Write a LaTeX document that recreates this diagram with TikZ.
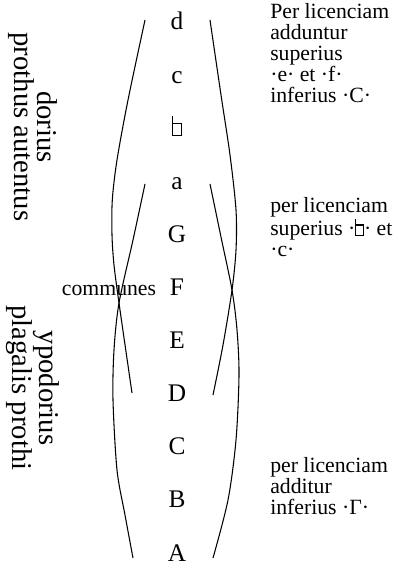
\documentclass[tikz,border=0pt]{standalone}
\usepackage{fontspec}
\setmainfont{Liberation Serif}
\usetikzlibrary{positioning}
\newcommand{\bquadro}{\hbox{\vrule width .05em height .8em\kern-.05em\vbox{\hrule height .05em\hbox{\vrule width .05em height .43em\kern .3em\vrule width .05em}\hrule height .05em}}}

\begin{document}
\begin{tikzpicture}[x=0.75pt, y=-0.75pt, every node/.style={inner sep=0pt},
  gamut/.style={font=\fontsize{19}{20}\selectfont, anchor=base},
  note/.style={font=\fontsize{16.3}{15.75}\selectfont, align=left},
  modus/.style={font=\fontsize{21.5}{17}\selectfont, align=center, rotate=-90},
  ambitus/.style={line width=0.8pt}]
  \useasboundingbox (0,0) rectangle (403,566);
  \foreach \nm/\tx [count=\i from 0] in {d/d, c/c, bq/\bquadro, a/a, G/G, F/F, E/E, D/D, C/C, B/B, A/A}
    \node[gamut] (\nm) at (177, 30+53.1*\i) {\tx};
  \node[modus] (dorius) at (33,127) {dorius\\prothus autentus};
  \node[modus] (ypodorius) at (33,388) {ypodorius\\plagalis prothi};
  \node[note, base left=10pt of F] (communes) {communes};
  \node[note, anchor=base west] (licsup) at (270,103) {Per licenciam\\adduntur\\superius\\·e· et ·f·\\inferius ·C·};
  \node[note, anchor=base west] (licmed) at (270,257) {per licenciam\\superius ·\bquadro· et\\·c·};
  \node[note, anchor=base west] (licinf) at (270,514) {per licenciam\\additur\\inferius ·Γ·};
  \draw[ambitus] plot[smooth] coordinates {(145,20) (128,100) (117,160) (112.3,200) (112,235) (114,265) (119,303) (132,393)};
  \draw[ambitus] plot[smooth] coordinates {(210,20) (221,95) (230,155) (236,210) (236,250) (232,290) (223,345) (213,395)};
  \draw[ambitus] plot[smooth] coordinates {(145,184) (133,240) (119,303) (114,350) (113,400) (117,470) (125,515) (133,558)};
  \draw[ambitus] plot[smooth] coordinates {(210,184) (221,237) (232,290) (237,330) (239,375) (236,440) (228,500) (213,558)};
\end{tikzpicture}
\end{document}
